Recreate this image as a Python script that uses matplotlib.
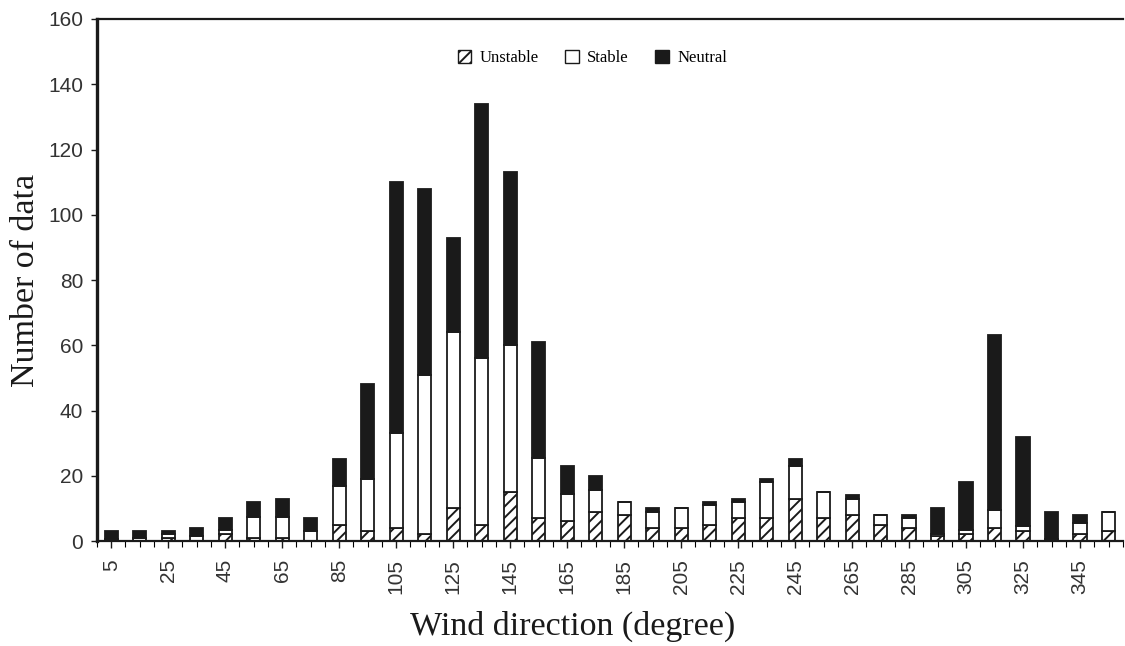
import numpy as np
import matplotlib
matplotlib.use("Agg")
import matplotlib.pyplot as plt
from matplotlib.patches import Patch

# Wind direction bins (degree, bin centres)
directions = list(range(5, 360, 10))

# Counts per stability class for each bin
unstable = [0, 0, 1, 0, 2, 1, 1, 0, 5, 3,
            4, 2, 10, 5, 15, 7, 6, 9, 8, 4,
            4, 5, 7, 7, 13, 7, 8, 5, 4, 1.5,
            2, 4, 3, 0, 2, 3]
stable = [0.5, 1, 1, 1.5, 1.5, 6.5, 6.5, 3, 12, 16,
          29, 49, 54, 51, 45, 18.5, 8.5, 6.5, 4, 5,
          6, 6, 5, 11, 10, 8, 5, 3, 3, 0.5,
          1.5, 5.5, 1.5, 0.5, 3.5, 6]
neutral = [2.5, 2, 1, 2.5, 3.5, 4.5, 5.5, 4, 8, 29,
           77, 57, 29, 78, 53, 35.5, 8.5, 4.5, 0, 1,
           0, 1, 1, 1, 2, 0, 1, 0, 1, 8,
           14.5, 53.5, 27.5, 8.5, 2.5, 0]

plt.rcParams['hatch.linewidth'] = 1.4

x = np.array(directions)
u = np.array(unstable)
s = np.array(stable)
n = np.array(neutral)

fig = plt.figure(figsize=(11.25, 6.46), dpi=100)
ax = fig.add_axes([0.0862, 0.1625, 0.9118, 0.8081])

w = 4.6
ax.bar(x, u, width=w, color='white', edgecolor='#1a1a1a', hatch='///', linewidth=1.3)
ax.bar(x, s, width=w, bottom=u, color='white', edgecolor='#1a1a1a', linewidth=1.3)
ax.bar(x, n, width=w, bottom=u + s, color='#1a1a1a', edgecolor='#1a1a1a', linewidth=1.3)

ax.set_xlim(0, 360)
ax.set_ylim(0, 160)

ax.spines['right'].set_visible(False)
ax.spines['left'].set_linewidth(2.4)
ax.spines['top'].set_linewidth(1.6)
ax.spines['bottom'].set_linewidth(1.6)
for sp in ax.spines.values():
    sp.set_color('#1a1a1a')

ax.set_xticks(range(5, 360, 20))
ax.set_xticks(range(0, 361, 5), minor=True)
ax.set_yticks(range(0, 161, 20))
ax.tick_params(axis='x', which='major', length=5, width=1.0, direction='out',
               labelrotation=90, labelsize=15, colors='#1a1a1a', pad=8)
ax.tick_params(axis='x', which='minor', length=4, width=0.8, direction='out')
ax.tick_params(axis='y', length=4, width=1.0, labelsize=15, colors='#1a1a1a', pad=6)
for lbl in ax.get_xticklabels() + ax.get_yticklabels():
    lbl.set_fontfamily('Liberation Sans')
    lbl.set_color('#333333')

ax.set_xlabel('Wind direction (degree)', fontfamily='Liberation Serif',
              fontsize=24.5, color='#1a1a1a')
ax.xaxis.set_label_coords(0.464, -0.134)
ax.set_ylabel('Number of data', fontfamily='Liberation Serif',
              fontsize=24.5, color='#1a1a1a', labelpad=5)

handles = [
    Patch(facecolor='white', edgecolor='#1a1a1a', hatch='///', label='Unstable'),
    Patch(facecolor='white', edgecolor='#1a1a1a', label='Stable'),
    Patch(facecolor='#1a1a1a', edgecolor='#1a1a1a', label='Neutral'),
]
ax.legend(handles=handles, loc='upper center', bbox_to_anchor=(0.483, 0.97),
          ncol=3, frameon=False, handlelength=0.8, handleheight=0.9,
          handletextpad=0.5, columnspacing=1.6,
          prop={'family': 'Liberation Serif', 'size': 12})

fig.savefig('out.png', dpi=100)
